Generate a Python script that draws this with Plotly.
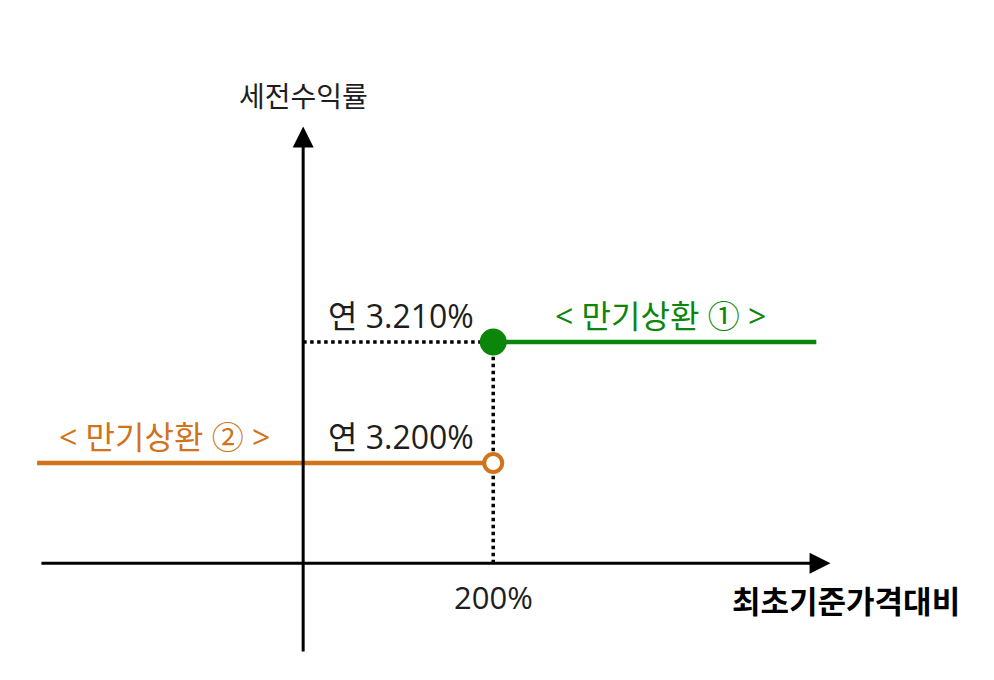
"""만기상환 수익률 구조도 (Plotly)."""
import plotly.graph_objects as go

# 데이터
THRESHOLD = 200  # 최초기준가격대비 (%)
RATE_HIGH = 3.210  # 만기상환 ① 세전수익률 (연 %)
RATE_LOW = 3.200  # 만기상환 ② 세전수익률 (연 %)
X_LEFT = -280  # 그림상 왼쪽 끝
X_RIGHT = 540  # 그림상 오른쪽 끝
HIGH_LABEL = "< 만기상환 ① >"
LOW_LABEL = "< 만기상환 ② >"
X_TITLE = "최초기준가격대비"
Y_TITLE = "세전수익률"

GREEN = "#0b860b"
ORANGE = "#d0731b"
FONT = "Open Sans, Noto Sans CJK KR"
KFONT = "Noto Sans CJK KR"

# 축 범위 (개념도: 실제 비율이 아닌 그림 배치용)
X_RANGE = [-310.6, 735.4]
Y_RANGE = [3.18140, 3.23760]
Y_BASE = 3.1917  # 가로축 위치
Y_TOP = 3.2278
Y_BOTTOM = 3.1843

fig = go.Figure()

# 점선 (수익률 ①까지 가로, 기준선 세로)
fig.add_trace(go.Scatter(
    x=[0, THRESHOLD], y=[RATE_HIGH, RATE_HIGH], mode="lines",
    line=dict(color="black", width=3.5, dash="dot"), hoverinfo="skip",
))
fig.add_trace(go.Scatter(
    x=[THRESHOLD, THRESHOLD], y=[Y_BASE, RATE_HIGH], mode="lines",
    line=dict(color="black", width=3.5, dash="dot"), hoverinfo="skip",
))

# 만기상환 ② (주황)
fig.add_trace(go.Scatter(
    x=[X_LEFT, THRESHOLD], y=[RATE_LOW, RATE_LOW], mode="lines",
    line=dict(color=ORANGE, width=4.5), hoverinfo="skip",
))
# 만기상환 ① (초록)
fig.add_trace(go.Scatter(
    x=[THRESHOLD, X_RIGHT], y=[RATE_HIGH, RATE_HIGH], mode="lines",
    line=dict(color=GREEN, width=4.5), hoverinfo="skip",
))
fig.add_trace(go.Scatter(
    x=[THRESHOLD], y=[RATE_LOW], mode="markers",
    marker=dict(size=18, color="white", line=dict(color=ORANGE, width=4)),
    hoverinfo="skip",
))
fig.add_trace(go.Scatter(
    x=[THRESHOLD], y=[RATE_HIGH], mode="markers",
    marker=dict(size=27, color=GREEN), hoverinfo="skip",
))

# 축 화살표
axis_arrow = dict(
    showarrow=True, arrowhead=2, arrowsize=1.4, arrowwidth=3, arrowcolor="black",
    xref="x", yref="y", axref="x", ayref="y", text="",
)
fig.add_annotation(x=555, y=Y_BASE, ax=-277, ay=Y_BASE, **axis_arrow)
fig.add_annotation(x=0, y=Y_TOP, ax=0, ay=Y_BOTTOM, **axis_arrow)

txt = dict(showarrow=False, xref="x", yref="y")
dark = "#1e1e1e"
fig.add_annotation(x=0, y=Y_TOP + 0.0026, text=Y_TITLE, xanchor="center",
                   font=dict(family=KFONT, size=28, color=dark), **txt)
fig.add_annotation(x=24, y=RATE_HIGH + 0.0022, text=f"연 {RATE_HIGH:.3f}%", xanchor="left",
                   font=dict(family=FONT, size=32, color=dark), **txt)
fig.add_annotation(x=24, y=RATE_LOW + 0.0022, text=f"연 {RATE_LOW:.3f}%", xanchor="left",
                   font=dict(family=FONT, size=32, color=dark), **txt)
fig.add_annotation(x=THRESHOLD, y=Y_BASE - 0.0028, text=f"{THRESHOLD}%", xanchor="center",
                   font=dict(family=FONT, size=31, color=dark), **txt)
fig.add_annotation(x=693, y=Y_BASE - 0.003, text=f"<b>{X_TITLE}</b>", xanchor="right",
                   font=dict(family=KFONT, size=31, color="black"), **txt)
fig.add_annotation(
    x=376, y=RATE_HIGH + 0.0022, text=HIGH_LABEL.replace("<", "&lt;").replace(">", "&gt;"),
    xanchor="center", font=dict(family=FONT, size=32, color=GREEN), **txt,
)
fig.add_annotation(
    x=-259, y=RATE_LOW + 0.0022, text=LOW_LABEL.replace("<", "&lt;").replace(">", "&gt;"),
    xanchor="left", font=dict(family=FONT, size=32, color=ORANGE), **txt,
)

fig.update_layout(
    width=994, height=680,
    margin=dict(l=0, r=0, t=0, b=0),
    paper_bgcolor="white", plot_bgcolor="white",
    showlegend=False,
    xaxis=dict(range=X_RANGE, visible=False, fixedrange=True),
    yaxis=dict(range=Y_RANGE, visible=False, fixedrange=True),
)

fig.write_html("out.html")
